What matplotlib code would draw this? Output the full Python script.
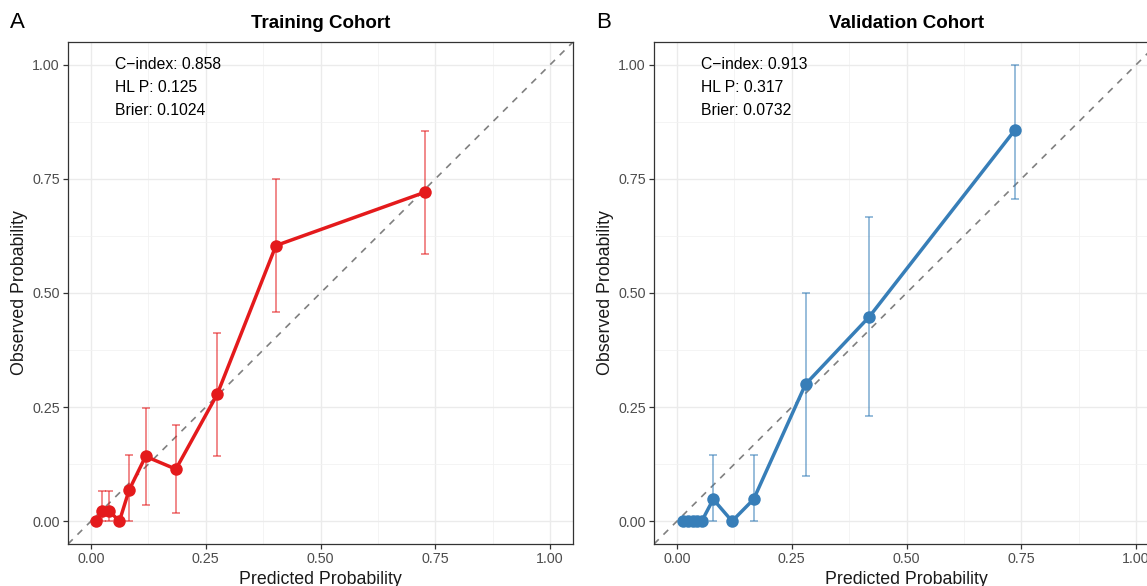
import matplotlib
matplotlib.use("Agg")
import matplotlib.pyplot as plt
from matplotlib.ticker import FixedLocator

plt.rcParams['font.family'] = ['Liberation Sans', 'DejaVu Sans']

# ---- data ----
train_pred = [0.012, 0.025, 0.040, 0.062, 0.083, 0.119, 0.185, 0.275, 0.403, 0.728]
train_obs = [0.0, 0.022, 0.022, 0.0, 0.068, 0.142, 0.114, 0.278, 0.604, 0.721]
train_lo = [0.0, 0.0, 0.0, 0.0, 0.0, 0.035, 0.018, 0.143, 0.458, 0.586]
train_hi = [0.0, 0.067, 0.067, 0.0, 0.144, 0.247, 0.211, 0.413, 0.750, 0.855]

val_pred = [0.014, 0.024, 0.034, 0.044, 0.054, 0.079, 0.120, 0.167, 0.280, 0.419, 0.736]
val_obs = [0.0, 0.0, 0.0, 0.0, 0.0, 0.048, 0.0, 0.048, 0.300, 0.448, 0.857]
val_lo = [0.0, 0.0, 0.0, 0.0, 0.0, 0.0, 0.0, 0.0, 0.099, 0.231, 0.707]
val_hi = [0.0, 0.0, 0.0, 0.0, 0.0, 0.144, 0.0, 0.144, 0.500, 0.667, 1.000]

titles = ["Training Cohort", "Validation Cohort"]
letters = ["A", "B"]
stats_train = ["C\u2212index: 0.858", "HL P: 0.125", "Brier: 0.1024"]
stats_val = ["C\u2212index: 0.913", "HL P: 0.317", "Brier: 0.0732"]
ticks = [0.0, 0.25, 0.5, 0.75, 1.0]
tick_labels = ["0.00", "0.25", "0.50", "0.75", "1.00"]
minor_ticks = [0.125, 0.375, 0.625, 0.875]
colors = ["#E41A1C", "#377EB8"]

W, H = 1147, 586
fig = plt.figure(figsize=(W / 100, H / 100), dpi=100)

panels = [
    (68, train_pred, train_obs, train_lo, train_hi, stats_train),
    (654, val_pred, val_obs, val_lo, val_hi, stats_val),
]

for i, (left_px, pred, obs, lo, hi, stats) in enumerate(panels):
    ax = fig.add_axes([left_px / W, (H - 544) / H, 505 / W, (544 - 42) / H])
    ax.set_xlim(-0.05, 1.05)
    ax.set_ylim(-0.05, 1.05)
    ax.xaxis.set_major_locator(FixedLocator(ticks))
    ax.yaxis.set_major_locator(FixedLocator(ticks))
    ax.set_xticklabels(tick_labels)
    ax.set_yticklabels(tick_labels)
    ax.xaxis.set_minor_locator(FixedLocator(minor_ticks))
    ax.yaxis.set_minor_locator(FixedLocator(minor_ticks))
    ax.grid(which='major', color='#EBEBEB', linewidth=1.0, zorder=0)
    ax.grid(which='minor', color='#F2F2F2', linewidth=0.6, zorder=0)
    ax.set_axisbelow(True)
    for s in ax.spines.values():
        s.set_color('#333333')
        s.set_linewidth(0.9)
    ax.tick_params(which='major', length=3.5, width=0.9, color='#333333',
                   labelsize=10.3, labelcolor='#4D4D4D', pad=2.5)
    ax.tick_params(which='minor', length=0)

    # diagonal reference
    ax.plot([-0.05, 1.05], [-0.05, 1.05], linestyle=(0, (4, 4)), color='#808080',
            linewidth=1.2, zorder=1)

    c = colors[i]
    yerr = [[o - l for o, l in zip(obs, lo)], [h - o for o, h in zip(obs, hi)]]
    ax.errorbar(pred, obs, yerr=yerr, fmt='none', ecolor=c, alpha=0.6,
                elinewidth=1.2, capsize=3.0, capthick=1.2, zorder=2)
    ax.plot(pred, obs, color=c, linewidth=2.5, zorder=3)
    ax.plot(pred, obs, 'o', color=c, markersize=9, markeredgewidth=0, zorder=4)

    for k, s in enumerate(stats):
        ax.text(0.052, 1.0 - k * 0.05, s, fontsize=11.3, color='black',
                ha='left', va='center', zorder=5)

    ax.set_title(titles[i], fontsize=13.5, fontweight='bold', pad=10)
    ax.set_xlabel("Predicted Probability", fontsize=12.8, labelpad=3, color='#1A1A1A')
    ax.set_ylabel("Observed Probability", fontsize=12.8, labelpad=3, color='#1A1A1A')

    fig.text((left_px - 58) / W, 1 - 22 / H, letters[i], fontsize=16,
             ha='left', va='center')

fig.savefig("out.png", dpi=100)
